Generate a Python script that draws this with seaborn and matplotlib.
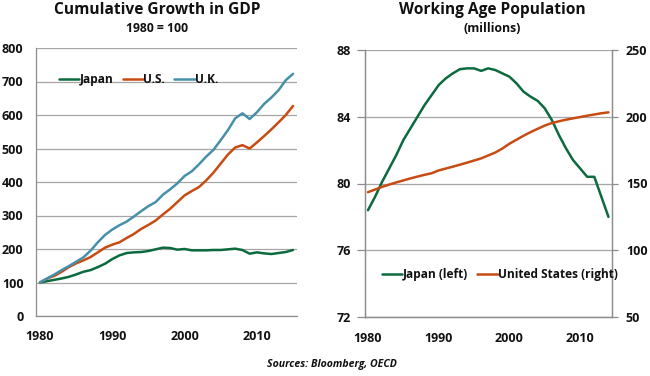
import matplotlib
matplotlib.use("Agg")
import matplotlib.pyplot as plt
import seaborn as sns
import pandas as pd

# ---------------- data ----------------
years_gdp = list(range(1980, 2016))
japan_gdp = [100, 104, 108, 112, 117, 124, 132, 137, 146, 156,
             170, 181, 188, 190, 191, 194, 199, 204, 203, 198,
             200, 196, 196, 196, 197, 197, 199, 201, 197, 186,
             190, 187, 185, 188, 191, 197]
us_gdp = [100, 112, 120, 132, 146, 157, 166, 176, 190, 204,
          213, 220, 233, 245, 260, 272, 285, 303, 320, 340,
          360, 373, 385, 405, 428, 455, 482, 503, 510, 500,
          518, 537, 557, 578, 600, 627]
uk_gdp = [100, 112, 124, 137, 149, 162, 175, 195, 220, 242,
          258, 271, 282, 297, 313, 328, 340, 362, 378, 396,
          418, 432, 453, 476, 496, 525, 555, 590, 605, 588,
          608, 633, 652, 674, 704, 723]

years_pop = list(range(1980, 2015))
japan_pop = [78.4, 79.2, 80.1, 80.9, 81.7, 82.6, 83.3, 84.0, 84.7, 85.3,
             85.9, 86.3, 86.6, 86.85, 86.9, 86.9, 86.75, 86.9, 86.8, 86.6,
             86.4, 86.0, 85.5, 85.2, 84.95, 84.5, 83.8, 82.9, 82.1, 81.4,
             80.9, 80.4, 80.4, 79.2, 78.0]
us_pop = [143.5, 145.5, 147.5, 149.2, 150.8, 152.3, 153.8, 155.2, 156.5, 157.7,
          159.8, 161.2, 162.6, 164.1, 165.6, 167.2, 168.8, 171.0, 173.2, 176.2,
          179.8, 182.8, 185.8, 188.5, 191.0, 193.4, 195.3, 196.6, 197.8, 198.8,
          199.8, 200.8, 201.7, 202.6, 203.3]

gdp_labels = ["Japan", "U.S.", "U.K."]
pop_labels = ["Japan (left)", "United States (right)"]
x_ticks = [1980, 1990, 2000, 2010]

GREEN = "#0b6b3f"
ORANGE = "#c84b12"
TEAL = "#4790aa"
GRID = "#a6a6a6"
SPINE = "#8c8c8c"
TXT = "#111111"

sns.set_theme(style="white")
plt.rcParams["font.family"] = ["Open Sans", "DejaVu Sans"]
plt.rcParams["font.weight"] = "bold"
plt.rcParams["text.color"] = TXT
plt.rcParams["xtick.color"] = TXT
plt.rcParams["ytick.color"] = TXT

TICK = 9
LEGF = 8.6

W, H = 650, 376
fig = plt.figure(figsize=(6.5, 3.76), dpi=100)
fig.patch.set_facecolor("white")

def frac(l, t, r, b):
    return [l / W, 1 - b / H, (r - l) / W, (b - t) / H]

# ---------------- left chart ----------------
ax1 = fig.add_axes(frac(36, 48, 297, 316))
df = pd.DataFrame({"Year": years_gdp, gdp_labels[0]: japan_gdp,
                   gdp_labels[1]: us_gdp, gdp_labels[2]: uk_gdp})
long = df.melt(id_vars="Year", var_name="Country", value_name="Index")
sns.lineplot(data=long, x="Year", y="Index", hue="Country",
             palette={gdp_labels[0]: GREEN, gdp_labels[1]: ORANGE, gdp_labels[2]: TEAL},
             linewidth=1.8, ax=ax1)
ax1.set_xlim(1979.45, 2015.55)
ax1.set_ylim(0, 800)
ax1.set_yticks(range(0, 801, 100))
ax1.set_xticks(x_ticks)
ax1.set_xlabel("")
ax1.set_ylabel("")
ax1.yaxis.grid(True, color=GRID, linewidth=0.9)
ax1.set_axisbelow(True)
for s in ["top", "right"]:
    ax1.spines[s].set_visible(False)
for s in ["left", "bottom"]:
    ax1.spines[s].set_color(SPINE)
    ax1.spines[s].set_linewidth(0.9)
ax1.tick_params(axis="y", length=3, width=0.9, color=SPINE, pad=6, labelsize=TICK,
                labelcolor=TXT)
ax1.tick_params(axis="x", length=0, pad=10, labelsize=TICK, labelcolor=TXT)
for t in ax1.get_xticklabels() + ax1.get_yticklabels():
    t.set_fontweight("bold")
leg = ax1.legend(loc="center left", bbox_to_anchor=(0.07, 0.882), ncol=3,
                 frameon=False, handlelength=1.7, handletextpad=0.0,
                 columnspacing=0.8, fontsize=LEGF, borderaxespad=0)
for t in leg.get_texts():
    t.set_fontweight("bold")

fig.text(157 / W, 1 - 10 / H, "Cumulative Growth in GDP", ha="center", va="center",
         fontsize=11.2, fontweight="bold")
fig.text(157 / W, 1 - 28 / H, "1980 = 100", ha="center", va="center",
         fontsize=8.8, fontweight="bold")

# ---------------- right chart ----------------
ax2 = fig.add_axes(frac(365, 50, 612, 317))
ax3 = ax2.twinx()
sns.lineplot(x=years_pop, y=japan_pop, color=GREEN, linewidth=1.8, ax=ax2,
             label=pop_labels[0], legend=False)
sns.lineplot(x=years_pop, y=us_pop, color=ORANGE, linewidth=1.8, ax=ax3,
             label=pop_labels[1], legend=False)
ax2.set_xlim(1979.58, 2014.5)
ax2.set_ylim(72, 88)
ax2.set_yticks([72, 76, 80, 84, 88])
ax3.set_ylim(50, 250)
ax3.set_yticks([50, 100, 150, 200, 250])
ax2.set_xticks(x_ticks)
ax2.yaxis.grid(True, color=GRID, linewidth=0.9)
ax2.set_axisbelow(True)
for a in (ax2, ax3):
    a.set_xlabel("")
    a.set_ylabel("")
    a.spines["top"].set_visible(False)
    for s in ["left", "right", "bottom"]:
        a.spines[s].set_color(SPINE)
        a.spines[s].set_linewidth(0.9)
ax2.tick_params(axis="y", length=6, width=0.9, color=SPINE, pad=4, labelsize=TICK,
                labelcolor=TXT)
ax3.tick_params(axis="y", length=4, width=0.9, color=SPINE, pad=6, labelsize=TICK,
                labelcolor=TXT)
ax2.tick_params(axis="x", length=0, pad=11, labelsize=TICK, labelcolor=TXT)
for t in ax2.get_xticklabels() + ax2.get_yticklabels() + ax3.get_yticklabels():
    t.set_fontweight("bold")

h2, l2 = ax2.get_legend_handles_labels()
h3, l3 = ax3.get_legend_handles_labels()
leg2 = ax3.legend(h2 + h3, l2 + l3, loc="center left", bbox_to_anchor=(0.05, 0.16),
                  ncol=2, frameon=False, handlelength=1.7, handletextpad=0.0,
                  columnspacing=0.8, fontsize=LEGF, borderaxespad=0)
for t in leg2.get_texts():
    t.set_fontweight("bold")

fig.text(492 / W, 1 - 10 / H, "Working Age Population", ha="center", va="center",
         fontsize=11.2, fontweight="bold")
fig.text(492 / W, 1 - 28 / H, "(millions)", ha="center", va="center",
         fontsize=8.8, fontweight="bold")

fig.text(332 / W, 1 - 365 / H, "Sources: Bloomberg, OECD", ha="center", va="center",
         fontsize=7.6, fontweight="bold", style="italic")

fig.savefig("out.png", dpi=100, facecolor="white")
